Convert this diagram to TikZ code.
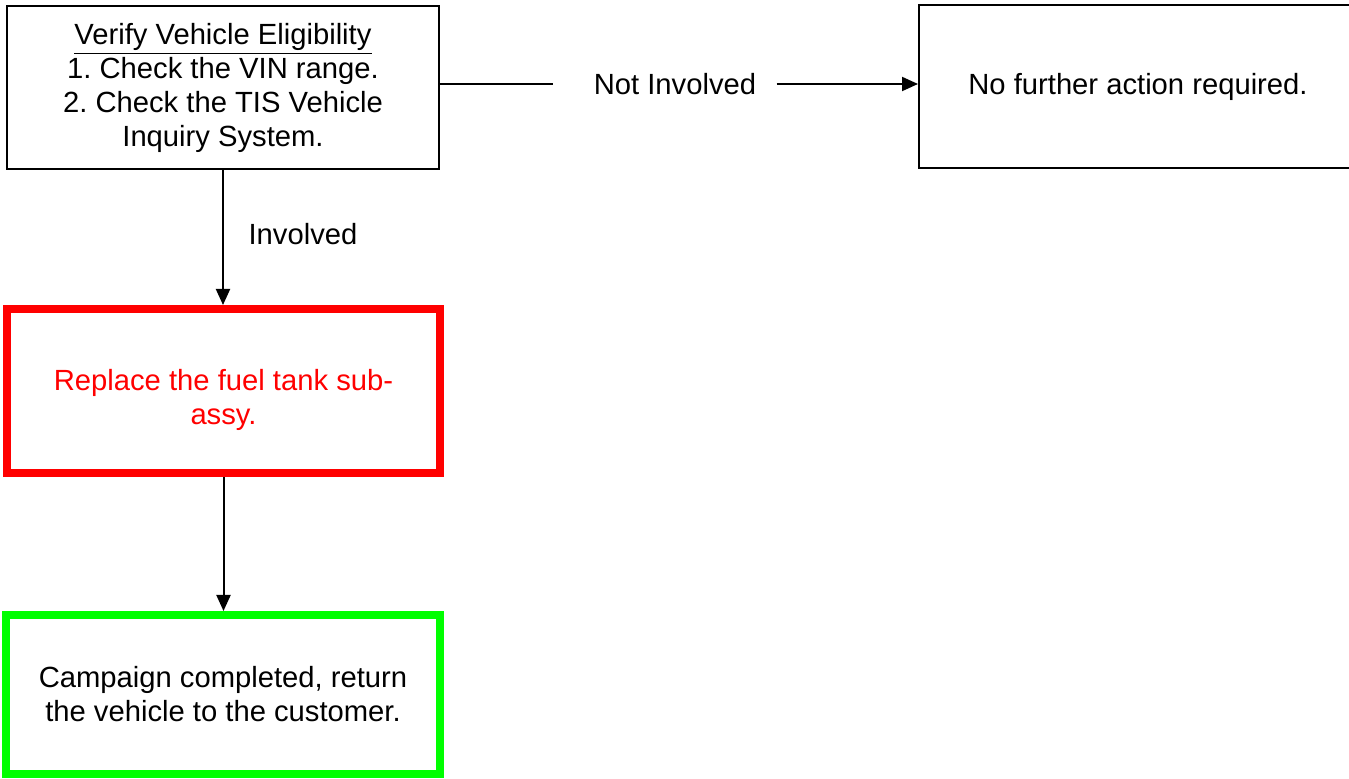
\documentclass[tikz,border=0pt]{standalone}
\usepackage{fontspec}
\setmainfont{Liberation Sans}
\usepackage{xcolor}
\usetikzlibrary{arrows.meta}
\definecolor{stepred}{RGB}{255,0,0}
\definecolor{stepgreen}{RGB}{0,255,0}
\tikzset{
	box/.style={draw,line width=1pt,align=center,inner sep=0pt},%
	redbox/.style={box,draw=stepred,line width=4pt,text=stepred},%
	greenbox/.style={box,draw=stepgreen,line width=4pt},%
	flow/.style={line width=1pt,-{Triangle[length=8pt,width=7pt]}},%
	plain/.style={line width=1pt},%
	branch/.style={inner xsep=10pt,inner ysep=0pt},%
}
\frenchspacing
\begin{document}
\begin{tikzpicture}[x=0.5pt,y=-0.5pt,font=\fontsize{14.6}{17}\selectfont]
		\clip (0,0) rectangle (1349,779);
		\node[box,minimum width=216pt,minimum height=81.5pt] (verify) at (223,87.5)
		{\underline{Verify Vehicle Eligibility}\\1. Check the VIN range.\\2. Check the TIS Vehicle\\Inquiry System.};
		\node[box,minimum width=219pt,minimum height=81.5pt] (nofurther) at (1138,86.5) {No further action required.};
		\node[redbox,minimum width=216.5pt,minimum height=82pt] (replace) at (223.5,391)
		{\rule{0pt}{20pt}Replace the fuel tank sub-\\assy.};
		\node[greenbox,minimum width=217pt,minimum height=79.5pt] (campaign) at (223,694.5)
		{Campaign completed, return\\the vehicle to the customer.};
		\node[branch] (notinvolved) at (675,84) {Not Involved};
		\node (involved) at (303,234) {Involved};
		\draw[plain,shorten >=10pt] (verify.east |- notinvolved.west) -- (notinvolved.west);
		\draw[flow] (notinvolved.east) -- (nofurther.west |- notinvolved.east);
		\draw[flow] (verify.south) -- (verify.south |- replace.north);
		\draw[flow] (replace.south) -- (replace.south |- campaign.north);
	\end{tikzpicture}
\end{document}
